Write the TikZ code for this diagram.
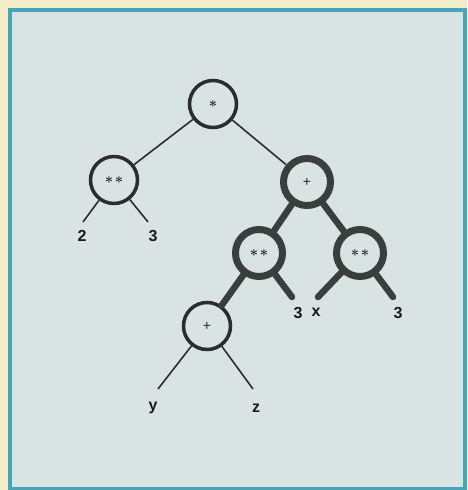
\documentclass[tikz,border=0pt]{standalone}
\usepackage{fontspec}
\setmainfont{Liberation Sans}
\usepackage{tikz}
\usetikzlibrary{calc}

\definecolor{paper}{HTML}{F3ECCB}
\definecolor{frameteal}{HTML}{44A6B6}
\definecolor{panel}{HTML}{D9E4E2}
\definecolor{ink}{HTML}{2B2D2D}
\definecolor{heavyink}{HTML}{3A3E3D}

\newcommand{\opstar}{$\ast$}
\newcommand{\oppow}{$\ast\mkern2mu\ast$}

\begin{document}
\begin{tikzpicture}[
    x=1pt, y=-1pt,
    % Node styles
    opnode/.style={
        circle,
        draw=ink,
        line width=3.5pt,
        fill=panel,
        minimum size=47pt,
        inner sep=0pt,
        text=black!85,
        font=\fontsize{14}{15}\selectfont\boldmath
    },
    heavynode/.style={
        circle,
        draw=heavyink,
        line width=7pt,
        fill=panel,
        minimum size=47pt,
        inner sep=0pt,
        text=black!85,
        font=\fontsize{14}{15}\selectfont\boldmath
    },
    leaf/.style={
        inner sep=0pt,
        text=black!90,
        font=\fontsize{16}{18}\selectfont\bfseries
    },
    thinedge/.style={
        draw=ink,
        line width=1.6pt
    },
    heavyedge/.style={
        draw=heavyink,
        line width=6.5pt,
        line cap=round
    }
]

% --- Frame ---
\fill[paper] (0,0) rectangle (467,490);
\fill[frameteal] (8,8) rectangle (467,490);
\fill[panel] (12,12) rectangle (463,487);
\useasboundingbox (0,0) rectangle (467,490);

% --- Operator nodes ---
\node[opnode] (times) at (213,104) {\opstar};
\node[opnode] (powl) at (114,180) {\oppow};
\node[heavynode] (plus) at (307,182) {+};
\node[heavynode] (powm) at (259,253) {\oppow};
\node[heavynode] (powr) at (360,253) {\oppow};
\node[opnode] (plusyz) at (207,326) {+};

% --- Leaf labels ---
\node[leaf] (two) at (82,236) {2};
\node[leaf] (threea) at (153,236) {3};
\node[leaf] (threeb) at (298,313) {3};
\node[leaf] (xvar) at (316,312) {x};
\node[leaf] (threec) at (398,313) {3};
\node[leaf] (yvar) at (153,408) {y};
\node[leaf] (zvar) at (256,408) {z};

% --- Leaf ends (free ends of connectors) ---
\coordinate (e2) at (83,222);
\coordinate (e3a) at (148,222);
\coordinate (e3b) at (292,297);
\coordinate (ex) at (318,297);
\coordinate (e3c) at (393,297);
\coordinate (ey) at (158,389);
\coordinate (ez) at (253,389);

% --- Connectors ---
\draw[thinedge] (times) -- (powl);
\draw[thinedge] (times) -- (plus);
\draw[thinedge] (powl) -- (e2);
\draw[thinedge] (powl) -- (e3a);
\draw[heavyedge] (plus) -- (powm);
\draw[heavyedge] (plus) -- (powr);
\draw[heavyedge] (powm) -- (plusyz);
\draw[heavyedge] (powm) -- (e3b);
\draw[heavyedge] (powr) -- (ex);
\draw[heavyedge] (powr) -- (e3c);
\draw[thinedge] (plusyz) -- (ey);
\draw[thinedge] (plusyz) -- (ez);

\end{tikzpicture}
\end{document}
